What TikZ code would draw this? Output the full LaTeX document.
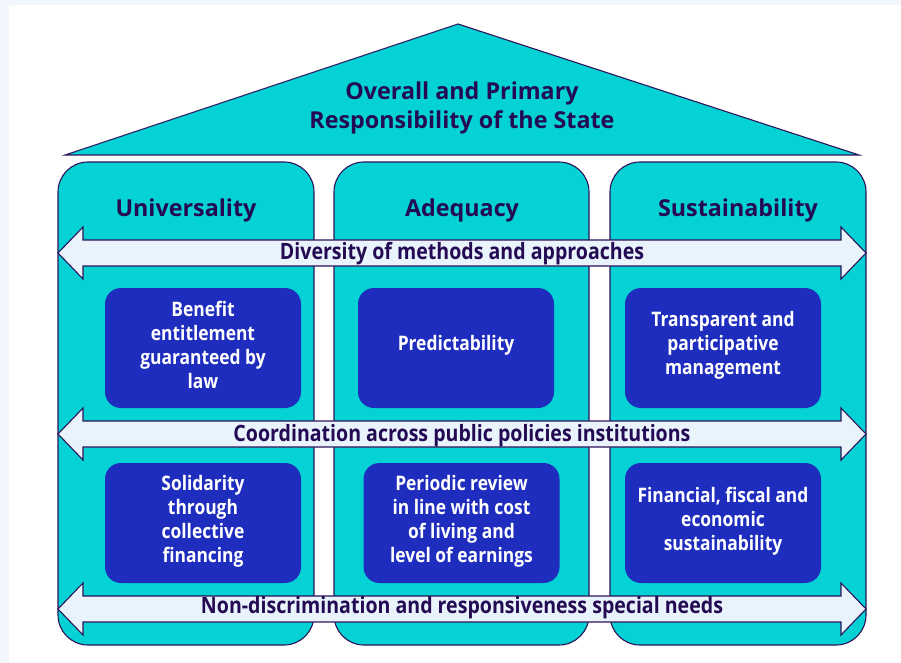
\documentclass[tikz,border=0pt]{standalone}
\usepackage{fontspec}
\setmainfont{Open Sans}
\newfontfamily\condfont{Open Sans}[FakeStretch=0.87]
\definecolor{bgc}{RGB}{242,247,253}
\definecolor{teal}{RGB}{5,210,212}
\definecolor{edge}{RGB}{45,20,90}
\definecolor{ink}{RGB}{36,10,82}
\definecolor{boxc}{RGB}{31,45,190}
\definecolor{arrc}{RGB}{232,243,252}
\tikzset{
  pillar/.style={draw=edge, line width=1.1pt, fill=teal, rounded corners=30pt},
  roof/.style={draw=edge, line width=1.1pt, fill=teal},
  title/.style={text=ink, font=\bfseries\fontsize{23.3}{29}\selectfont, align=center},
  inner/.style={fill=boxc, rounded corners=16pt, minimum width=196pt, minimum height=120pt, inner sep=0pt},
  innertext/.style={text=white, align=center, font=\condfont\bfseries\fontsize{20}{24}\selectfont, inner sep=0pt},
  arr/.style={draw=edge, line width=1.1pt, fill=arrc},
  arrlabel/.style={text=ink, font=\condfont\bfseries\fontsize{22.5}{26}\selectfont, inner sep=0pt},
}
\newcommand{\dblarrow}[1]{%
  \path[arr] (58,#1) -- (83,#1-26) -- (83,#1-13) -- (841,#1-13) -- (841,#1-26) -- (866,#1)
    -- (841,#1+26) -- (841,#1+13) -- (83,#1+13) -- (83,#1+26) -- cycle;}
\begin{document}
\begin{tikzpicture}[x=1pt,y=-1pt]
\useasboundingbox (0,0) rectangle (901,663);
\fill[bgc] (0,0) rectangle (901,663);
\fill[white] (9,5) rectangle (901,663);
% roof
\path[roof] (65,155) -- (458,24) -- (859,155) -- cycle;
\node[title] (roofT) at (462,108) {Overall and Primary\\Responsibility of the State};
% pillars
\path[pillar] (58,162) rectangle (314,645);
\path[pillar] (334,162) rectangle (589,645);
\path[pillar] (610,162) rectangle (866,645);
\node[title] (p1) at (186,210) {Universality};
\node[title] (p2) at (462,210) {Adequacy};
\node[title] (p3) at (738,210) {Sustainability};
% arrows
\dblarrow{253}
\node[arrlabel] (a1) at (462,254) {Diversity of methods and approaches};
\dblarrow{434}
\node[arrlabel] (a2) at (462,436) {Coordination across public policies institutions};
\dblarrow{609}
\node[arrlabel] (a3) at (462,608) {Non-discrimination and responsiveness special needs};
% inner boxes
\node[inner] (b1) at (203,348) {};
\node[inner] (b2) at (456,348) {};
\node[inner] (b3) at (723,348) {};
\node[inner] (b4) at (203,523) {};
\node[inner] (b5) at (461.5,523) {};
\node[inner] (b6) at (723,523) {};
\node[innertext] (t1) at ([yshift=3pt]b1.center) {Benefit\\entitlement\\guaranteed by\\law};
\node[innertext] (t2) at ([yshift=3pt]b2.center) {Predictability};
\node[innertext] (t3) at ([yshift=2.5pt]b3.center) {Transparent and\\participative\\management};
\node[innertext] (t4) at ([yshift=2pt]b4.center) {Solidarity\\through\\collective\\financing};
\node[innertext] (t5) at ([yshift=2pt]b5.center) {Periodic review\\in line with cost\\of living and\\level of earnings};
\node[innertext] (t6) at ([yshift=2pt]b6.center) {Financial, fiscal and\\economic\\sustainability};
\end{tikzpicture}
\end{document}
